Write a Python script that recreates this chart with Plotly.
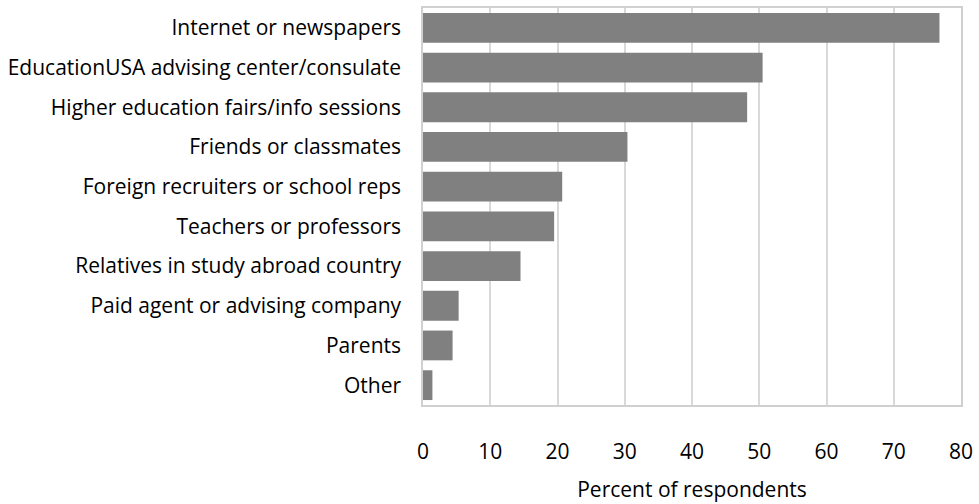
import plotly.graph_objects as go

categories = [
    "Internet or newspapers",
    "EducationUSA advising center/consulate",
    "Higher education fairs/info sessions",
    "Friends or classmates",
    "Foreign recruiters or school reps",
    "Teachers or professors",
    "Relatives in study abroad country",
    "Paid agent or advising company",
    "Parents",
    "Other",
]
values = [76.8, 50.5, 48.2, 30.4, 20.7, 19.5, 14.5, 5.3, 4.4, 1.4]
x_ticks = [0, 10, 20, 30, 40, 50, 60, 70, 80]

FONT = "Open Sans"
FS = 21

fig = go.Figure(
    go.Bar(
        x=values,
        y=categories,
        orientation="h",
        marker=dict(color="#808080", line=dict(width=0)),
        width=0.75,
    )
)

fig.update_layout(
    width=979,
    height=504,
    margin=dict(l=423, r=15, t=6, b=99),
    paper_bgcolor="white",
    plot_bgcolor="white",
    font=dict(family=FONT, size=FS, color="#000000"),
    showlegend=False,
)

fig.update_xaxes(
    range=[0, 80],
    tickvals=x_ticks,
    ticktext=[str(t) for t in x_ticks],
    showgrid=True,
    gridcolor="#d9d9d9",
    gridwidth=1.5,
    zeroline=False,
    showline=True,
    linecolor="#d0d0d0",
    linewidth=1.5,
    mirror=True,
    ticks="",
    ticklabelstandoff=27,
    tickfont=dict(size=FS),
    title=dict(text="Percent of respondents", font=dict(size=FS), standoff=18),
)

fig.update_yaxes(
    categoryorder="array",
    categoryarray=categories[::-1],
    showgrid=False,
    zeroline=False,
    showline=True,
    linecolor="#d0d0d0",
    linewidth=1.5,
    mirror=True,
    ticks="",
    ticklabelstandoff=16,
    tickfont=dict(size=FS),
)

fig.write_html("out.html")
